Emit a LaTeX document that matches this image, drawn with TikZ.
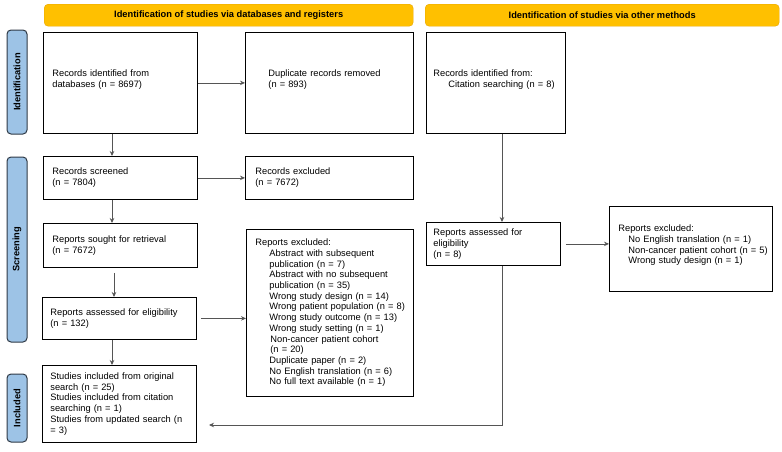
\documentclass[tikz,border=0pt]{standalone}
\usepackage{fontspec}
\setmainfont{Liberation Sans}
\usepackage{xcolor}
\usepackage{tikz}
\usetikzlibrary{arrows.meta}
\definecolor{headfill}{HTML}{FFC000}
\definecolor{headline}{HTML}{E8A600}
\definecolor{sidefill}{HTML}{9DC3E6}
\definecolor{sideline}{HTML}{2F3A46}
\definecolor{linkgray}{HTML}{555555}
\newcommand{\fs}{\fontsize{9.3}{10.7}\selectfont}
\newcommand{\itm}[1][14pt]{\hspace*{#1}}

\begin{document}
\begin{tikzpicture}[x=1pt,y=-1pt,>={Stealth[length=5pt,width=4.5pt]},
  box/.style={draw,line width=0.8pt,anchor=north west,align=left,font=\fs,inner ysep=0pt},
  head/.style={draw=headline,fill=headfill,rounded corners=4pt,anchor=north west,font=\fs\bfseries,inner sep=0pt,minimum height=22pt},
  side/.style={draw=sideline,fill=sidefill,rounded corners=4pt,line width=1pt,rotate=90,font=\fs\bfseries,inner sep=0pt,minimum height=20pt},
  link/.style={->,draw=linkgray,line width=0.7pt}]
\useasboundingbox (0,0) rectangle (782,451);
% column titles and phase labels
\node[head,minimum width=369pt] (hdb) at (44,4) {Identification of studies via databases and registers};
\node[head,minimum width=354pt] (hot) at (425,4) {Identification of studies via other methods};
\node[side,minimum width=104pt] (pid) at (17,82) {Identification};
\node[side,minimum width=185pt] (psc) at (17,249.5) {Screening};
\node[side,minimum width=68pt] (pin) at (17,408) {Included};
% databases and registers
\node[box,text width=136pt,inner xsep=9pt,minimum height=101pt] (idb) at (43,32) {Records identified from\\databases (n = 8697)\\[-2pt]\mbox{}};
\node[box,text width=122pt,inner xsep=23pt,minimum height=101pt] (dup) at (245,32) {Duplicate records removed\\(n = 893)\\[-2pt]\mbox{}};
\node[box,text width=136pt,inner xsep=9pt,minimum height=43pt] (scr) at (43,156) {Records screened\\(n = 7804)};
\node[box,text width=148pt,inner xsep=10pt,minimum height=43pt] (rex) at (245,156) {Records excluded\\(n = 7672)};
\node[box,text width=136pt,inner xsep=9pt,minimum height=44pt] (rsr) at (43,223) {Reports sought for retrieval\\(n = 7672)};
\node[box,text width=149pt,inner xsep=9pt,minimum height=167pt] (rxl) at (246,229)
  {Reports excluded:\\
   \itm Abstract with subsequent\\
   \itm publication (n = 7)\\
   \itm Abstract with no subsequent\\
   \itm publication (n = 35)\\
   \itm Wrong study design (n = 14)\\
   \itm\mbox{Wrong patient population (n = 8)}\\
   \itm Wrong study outcome (n = 13)\\
   \itm Wrong study setting (n = 1)\\
   \itm[15pt]Non-cancer patient cohort\\
   \itm[15pt](n = 20)\\
   \itm Duplicate paper (n = 2)\\
   \itm No English translation (n = 6)\\
   \itm No full text available (n = 1)};
\node[box,text width=138pt,inner xsep=8pt,minimum height=42pt] (ras) at (42,297) {Reports assessed for eligibility\\(n = 132)};
\node[box,text width=138pt,inner xsep=8pt,minimum height=77pt] (inc) at (42,365)
  {Studies included from original\\search (n = 25)\\Studies included from citation\\searching (n = 1)\\Studies from updated search (n\\= 3)};
% other methods
\node[box,text width=125pt,inner xsep=7pt,minimum height=101pt] (cit) at (426,32) {Records identified from:\\\itm[15pt]Citation searching (n = 8)\\[-2pt]\mbox{}};
\node[box,text width=120pt,inner xsep=7pt,minimum height=43pt] (oas) at (426,222) {Reports assessed for\\eligibility\\(n = 8)};
\node[box,text width=145pt,inner xsep=9pt,minimum height=85pt] (oex) at (609,206)
  {Reports excluded:\\
   \itm[10pt]No English translation (n = 1)\\
   \itm[10pt]\mbox{Non-cancer patient cohort (n = 5)}\\
   \itm[10pt]Wrong study design (n = 1)\\[-2pt]\mbox{}};
\coordinate (back) at (209,425);
% connectors
\draw[link] (idb.east) -- (dup.west);
\draw[link] (112,0 |- idb.south) -- (112,0 |- scr.north);
\draw[link] (scr.east) -- (rex.west);
\draw[link] (112,0 |- scr.south) -- (112,0 |- rsr.north);
\draw[link,shorten <=5pt] (114,0 |- rsr.south) -- (114,0 |- ras.north);
\draw[link,shorten <=4pt] (ras.east) -- (rxl.west |- ras.east);
\draw[link] (112,0 |- ras.south) -- (112,0 |- inc.north);
\draw[link] (502,0 |- cit.south) -- (502,0 |- oas.north);
\draw[link,shorten <=5pt] (oas.east) -- (oex.west |- oas.east);
\draw[link] (502,0 |- oas.south) |- (back);
\end{tikzpicture}
\end{document}
